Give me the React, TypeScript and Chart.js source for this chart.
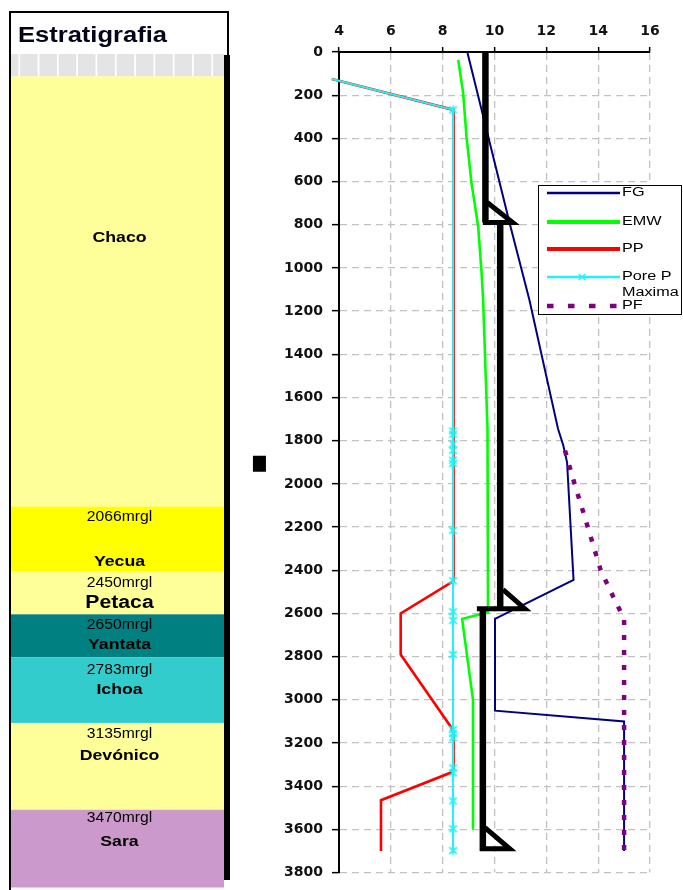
import { useEffect, useRef } from 'react';
import { Chart, registerables } from 'chart.js';
Chart.register(...registerables);

// ---------------- data ----------------
const fgValue = [8.95, 10.6, 11.35, 12.45, 12.65, 12.8, 13.05, 10.02, 10.02, 15.0, 15.0];
const fgDepth = [0, 800, 1150, 1745, 1820, 1900, 2445, 2625, 3050, 3100, 3700];

const emwValue = [8.6, 8.79, 8.92, 9.11, 9.37, 9.5, 9.56, 9.73, 9.75, 8.75, 9.17, 9.17];
const emwDepth = [37, 189, 392, 605, 808, 1020, 1145, 1745, 2595, 2625, 3000, 3600];

const ppValue = [3.72, 8.42, 8.42, 6.38, 6.38, 8.3, 8.42, 8.42, 8.3, 5.62, 5.62];
const ppDepth = [125, 268, 2450, 2600, 2790, 3122, 3150, 3320, 3338, 3465, 3700];

const porePMaxValue = [3.72, 8.4, 8.4, 8.4, 8.4, 8.4, 8.4, 8.4, 8.4, 8.4, 8.4, 8.4, 8.4, 8.4, 8.4, 8.4, 8.4, 8.4, 8.4, 8.4, 8.4];
const porePMaxDepth = [125, 268, 1755, 1770, 1815, 1845, 1890, 1905, 2215, 2448, 2592, 2632, 2790, 3138, 3155, 3176, 3315, 3338, 3468, 3597, 3698];

const pfValue = [12.72, 13.09, 13.6, 14.1, 14.65, 14.9, 15.0, 15.0];
const pfDepth = [1846, 2000, 2200, 2400, 2540, 2600, 2625, 3700];

// casing strings and shoes
const casingX = [9.65, 10.22, 9.55];
const casingTopDepth = [0, 790, 2578];
const casingBottomDepth = [790, 2578, 3700];
const shoeApexX = [9.72, 10.33, 9.63];
const shoeApexDepth = [697, 2490, 3592];
const shoeTipX = [10.7, 11.17, 10.59];
const shoeBaseDepth = [790, 2578, 3690];
const shoeBaseLeftX = [9.55, 9.32, 9.44];

// stray black mark left of the axis
const markX = [0.93, 0.93];
const markDepth = [1870, 1944];

const legendLabels = ['FG', 'EMW', 'PP', 'Pore P\nMaxima', 'PF'];

// stratigraphy column
const formationNames = ['Chaco', 'Yecua', 'Petaca', 'Yantata', 'Ichoa', 'Devónico', 'Sara'];
const formationTopLabels = ['', '2066mrgl', '2450mrgl', '2650mrgl', '2783mrgl', '3135mrgl', '3470mrgl'];
const formationTopDepth = [113, 2105, 2405, 2604, 2803, 3107, 3509];
const columnBottomDepth = 3869;

const xMin = 4, xMax = 16, xStep = 2;
const yMin = 0, yMax = 3800, yStep = 200;

// ---------------- styles ----------------
const formationColors = ['#FFFF99', '#FFFF00', '#FFFF99', '#008080', '#33CCCC', '#FFFF99', '#CC99CC'];
const labelOffsets = [0, 11, 12, 11, 13, 11, 8];
const nameOffsets = [161.5, 55, 32, 31, 33, 33, 32];
const nameSizes = [15, 15, 18, 15, 15, 15, 15];
const legendRowY = [193, 222, 249, 277, 306];

const pts = (xs: number[], ys: number[]) => xs.map((x, i) => ({ x, y: ys[i] }));

function drawStretched(ctx: CanvasRenderingContext2D, text: string, x: number, y: number, font: string, sx: number, align: CanvasTextAlign) {
  ctx.save();
  ctx.font = font;
  ctx.textAlign = align;
  ctx.textBaseline = 'middle';
  ctx.translate(x, y);
  ctx.scale(sx, 1);
  ctx.fillText(text, 0, 0);
  ctx.restore();
}

function makeStar(color: string, size: number, withBar: boolean) {
  const c = document.createElement('canvas');
  c.width = size; c.height = size;
  const g = c.getContext('2d')!;
  g.strokeStyle = color; g.lineWidth = 1.6;
  const m = size / 2, r = size / 2 - 1;
  g.beginPath();
  g.moveTo(m - r * 0.85, m - r * 0.75); g.lineTo(m + r * 0.85, m + r * 0.75);
  g.moveTo(m + r * 0.85, m - r * 0.75); g.lineTo(m - r * 0.85, m + r * 0.75);
  if (withBar) { g.moveTo(m, m - r); g.lineTo(m, m + r); }
  g.stroke();
  return c;
}

const stratPlugin = {
  id: 'strat',
  beforeDraw(chart: any) {
    const ctx: CanvasRenderingContext2D = chart.ctx;
    const ys = chart.scales.y;
    ctx.save();
    // stripes row
    ctx.fillStyle = '#e4e4e4';
    ctx.fillRect(11, 54, 213, 22.5);
    ctx.fillStyle = '#ffffff';
    for (let i = 0; i < 11; i++) ctx.fillRect(18.4 + i * 19.3, 54, 1.7, 22.5);
    // bands
    for (let i = 0; i < formationNames.length; i++) {
      const top = ys.getPixelForValue(formationTopDepth[i]);
      const bot = ys.getPixelForValue(i < formationNames.length - 1 ? formationTopDepth[i + 1] : columnBottomDepth);
      ctx.fillStyle = formationColors[i];
      ctx.fillRect(11, top, 213, bot - top);
    }
    // borders
    ctx.fillStyle = '#000';
    ctx.fillRect(9, 12, 2, 878);
    ctx.fillRect(9, 11, 220, 2);
    ctx.fillRect(227, 12, 2, 43);
    ctx.fillRect(224, 55, 6, 825);
    // title
    ctx.fillStyle = '#05051a';
    ctx.save();
    ctx.font = 'bold 22px "Liberation Sans", Arial, sans-serif';
    ctx.textAlign = 'left';
    ctx.textBaseline = 'alphabetic';
    ctx.translate(18, 42);
    ctx.scale(1.16, 1);
    ctx.fillText('Estratigrafia', 0, 0);
    ctx.restore();
    // labels
    ctx.fillStyle = '#000';
    for (let i = 0; i < formationNames.length; i++) {
      const top = ys.getPixelForValue(formationTopDepth[i]);
      if (formationTopLabels[i]) {
        drawStretched(ctx, formationTopLabels[i], 119.5, top + labelOffsets[i], '14px "Liberation Sans", Arial, sans-serif', 1.12, 'center');
      }
      drawStretched(ctx, formationNames[i], 119.5, top + nameOffsets[i], `bold ${nameSizes[i]}px "Liberation Sans", Arial, sans-serif`, 1.18, 'center');
    }
    ctx.restore();
  },
  afterDraw(chart: any) {
    const ctx: CanvasRenderingContext2D = chart.ctx;
    ctx.save();
    ctx.fillStyle = '#fff';
    ctx.fillRect(538, 185, 144, 130);
    ctx.strokeStyle = '#000';
    ctx.lineWidth = 1;
    ctx.strokeRect(538.5, 185.5, 143, 129);
    const sets = chart.data.datasets;
    for (let i = 0; i < legendLabels.length; i++) {
      const ds = sets[i];
      const y = legendRowY[i];
      ctx.save();
      ctx.strokeStyle = ds.borderColor;
      ctx.lineWidth = ds.legendWidth;
      ctx.setLineDash(ds.legendDash || []);
      ctx.lineCap = 'butt';
      ctx.beginPath();
      ctx.moveTo(547, y); ctx.lineTo(620, y);
      ctx.stroke();
      ctx.restore();
      if (ds.legendMarker) {
        const m = ds.legendMarker;
        ctx.drawImage(m, 582 - m.width / 2, y - m.height / 2);
      }
      ctx.fillStyle = '#000';
      const lines = legendLabels[i].split('\n');
      lines.forEach((t, k) => drawStretched(ctx, t, 622, y + k * 16, '12px "Liberation Sans", Arial, sans-serif', 1.35, 'left'));
    }
    ctx.restore();
  },
};

export default function App() {
  const ref = useRef<HTMLCanvasElement>(null);
  useEffect(() => {
    const star = makeStar('#22f2f2', 11, true);
    const cross = makeStar('#22f2f2', 10, false);
    const tickFont = { family: '"DejaVu Sans", sans-serif', weight: 'bold' as const, size: 14 };
    const lineDs = (label: string, data: any[], color: string, width: number, order: number, extra: any = {}) => ({
      label, data, borderColor: color, backgroundColor: color, borderWidth: width, showLine: true,
      pointRadius: 0, pointHoverRadius: 0, tension: 0, order, borderJoinStyle: 'miter', ...extra,
    });
    const datasets: any[] = [
      lineDs('FG', pts(fgValue, fgDepth), '#000080', 2, 4, { legendWidth: 2.5 }),
      lineDs('EMW', pts(emwValue, emwDepth), '#00ff00', 2.6, 5, { legendWidth: 4 }),
      lineDs('PP', pts(ppValue, ppDepth), '#ff0000', 2.6, 3, { clip: false, legendWidth: 4 }),
      lineDs('Pore P Maxima', pts(porePMaxValue, porePMaxDepth), '#22f2f2', 2, 2, {
        clip: false, pointStyle: star, pointRadius: porePMaxDepth.map((_, i) => (i === 0 ? 0 : 5)),
        legendWidth: 2.5, legendMarker: cross,
      }),
      lineDs('PF', pts(pfValue, pfDepth), '#800080', 4.5, 1, { borderDash: [5, 10], borderCapStyle: 'butt', legendWidth: 4.5, legendDash: [6.5, 14.5] }),
    ];
    for (let i = 0; i < casingX.length; i++) {
      datasets.push(lineDs('casing', [{ x: casingX[i], y: casingTopDepth[i] }, { x: casingX[i], y: casingBottomDepth[i] }], '#000', 6.5, 0, { borderCapStyle: 'butt' }));
      datasets.push(lineDs('shoe', [
        { x: shoeApexX[i], y: shoeApexDepth[i] },
        { x: shoeTipX[i], y: shoeBaseDepth[i] },
        { x: shoeBaseLeftX[i], y: shoeBaseDepth[i] },
      ], '#000', 5, 0, { borderCapStyle: 'butt' }));
    }
    datasets.push(lineDs('mark', pts(markX, markDepth), '#000', 13, 0, { clip: false, borderCapStyle: 'butt' }));

    const chart = new Chart(ref.current!, {
      type: 'scatter',
      data: { datasets },
      plugins: [stratPlugin],
      options: {
        animation: false,
        responsive: false,
        devicePixelRatio: 1,
        events: [],
        layout: { padding: { left: 0, top: 0, right: 33, bottom: 15 } },
        plugins: { legend: { display: false }, tooltip: { enabled: false } },
        scales: {
          x: {
            type: 'linear', position: 'top', min: xMin, max: xMax,
            ticks: { stepSize: xStep, font: tickFont, color: '#111', padding: 7, callback: (v: any) => String(v) },
            grid: { color: '#c2c2c2', lineWidth: 1.3, tickLength: 5, tickColor: '#000', tickWidth: 1.5 },
            border: { display: true, color: '#000', width: 2, dash: [7, 5] },
            afterFit: (s: any) => { s.height = 52; },
          },
          y: {
            type: 'linear', reverse: true, min: yMin, max: yMax,
            ticks: { stepSize: yStep, font: tickFont, color: '#111', padding: 9, callback: (v: any) => String(v) },
            grid: { color: '#c2c2c2', lineWidth: 1.3, tickLength: 7, tickColor: '#000', tickWidth: 1.5 },
            border: { display: true, color: '#000', width: 2, dash: [7, 5] },
            afterFit: (s: any) => { s.width = 339; },
          },
        },
      } as any,
    });
    return () => chart.destroy();
  }, []);
  return (
    <div style={{ position: 'absolute', left: 0, top: 0, width: 683, height: 890 }}>
      <canvas ref={ref} width={683} height={890} style={{ display: 'block' }} />
    </div>
  );
}
